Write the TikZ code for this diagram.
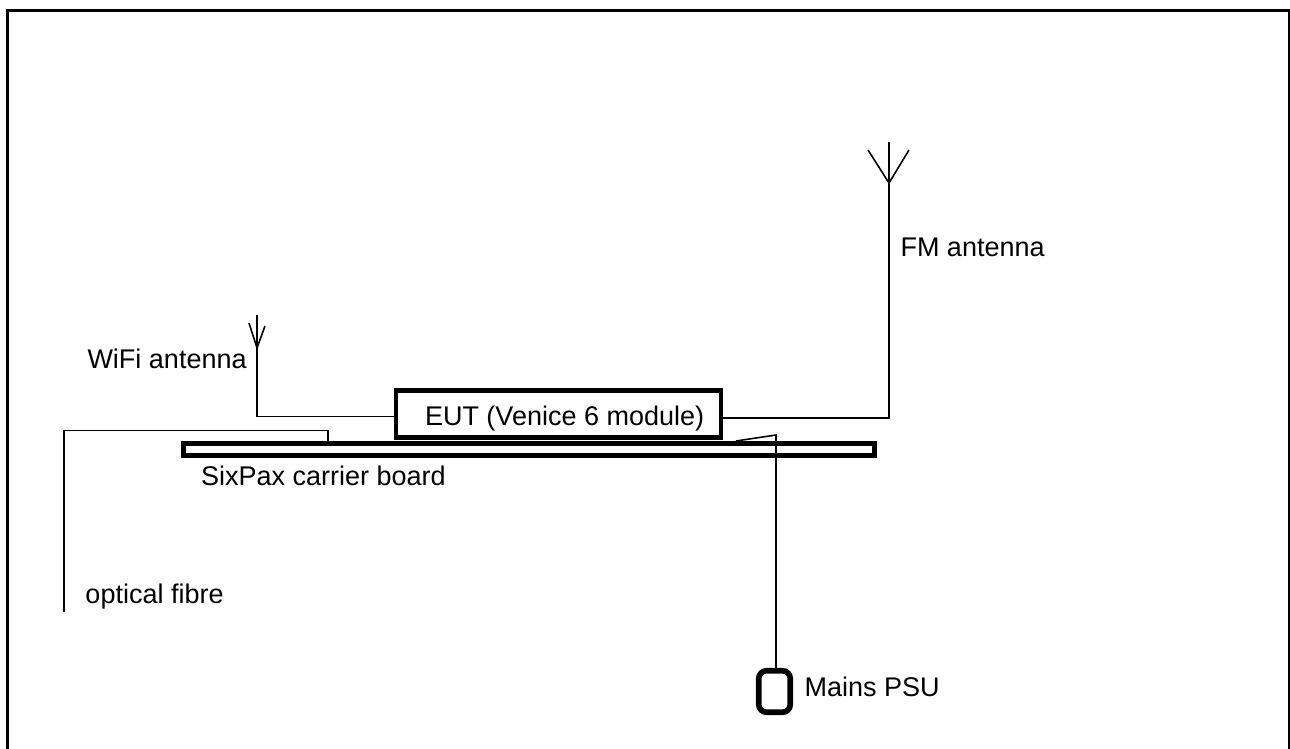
\documentclass[tikz,border=0pt]{standalone}
\usepackage{fontspec}
\setmainfont{Liberation Sans}
\tikzset{
  thick box/.style={draw=black,line width=1.35pt,fill=white,inner sep=0pt,outer sep=0pt},
  wire/.style={draw=black,line width=0.45pt},
  frame line/.style={draw=black,line width=0.85pt},
  caption/.style={anchor=base west,inner sep=0pt,outer sep=0pt,font=\fontsize{7.68pt}{9pt}\selectfont,text=black}
}
\begin{document}
\begin{tikzpicture}[x=0.01cm,y=-0.01cm]
\useasboundingbox (0,0) rectangle (1290,749);
% outer frame (open at the bottom edge)
\draw[frame line] (7.5,749) -- (7.5,10.5) -- (1289.5,10.5) -- (1289.5,749);
% main blocks
\node[thick box,minimum width=3.25cm,minimum height=0.475cm] (eut) at (558.5,414) {};
\node[thick box,minimum width=6.91cm,minimum height=0.12cm] (board) at (529,449.5) {};
\node[thick box,line width=1.6pt,rounded corners=2.2pt,minimum width=0.315cm,minimum height=0.415cm] (psu) at (774.5,691.5) {};
% helper coordinates
\coordinate (wifiTop) at (257,315);
\coordinate (wifiFoot) at (257,348);
\coordinate (wifiL) at (249,323);
\coordinate (wifiR) at (265,326);
\coordinate (wifiBend) at (257,416.5);
\coordinate (fmTop) at (889,142);
\coordinate (fmFoot) at (889,183);
\coordinate (fmL) at (868,150);
\coordinate (fmR) at (909,150);
\coordinate (fmBend) at (889,418);
\coordinate (fibreEnd) at (64,612);
\coordinate (fibreA) at (64,430.5);
\coordinate (fibreB) at (328,430.5);
\coordinate (fibreC) at (328,441);
\coordinate (psuTop) at (776,435);
\coordinate (psuSlant) at (736,441);
% connectors
\draw[wire] (wifiTop) -- (wifiBend) -- (eut.west |- wifiBend);
\draw[wire] (wifiL) -- (wifiFoot) -- (wifiR);
\draw[wire] (fmTop) -- (fmBend) -- (eut.east |- fmBend);
\draw[wire] (fmL) -- (fmFoot) -- (fmR);
\draw[wire] (fibreEnd) -- (fibreA) -- (fibreB) -- (fibreC);
\draw[wire] (psuSlant) -- (psuTop) -- (psuTop |- psu.north);
% labels
\node[caption] (lwifi) at (87.5,369) {WiFi antenna};
\node[caption] (lfm) at (900.5,256.5) {FM antenna};
\node[caption] (leut) at (425,425.5) {EUT (Venice 6 module)};
\node[caption] (lboard) at (201,486) {SixPax carrier board};
\node[caption] (lfibre) at (85.5,604) {optical fibre};
\node[caption] (lpsu) at (804.5,697) {Mains PSU};
\end{tikzpicture}
\end{document}
